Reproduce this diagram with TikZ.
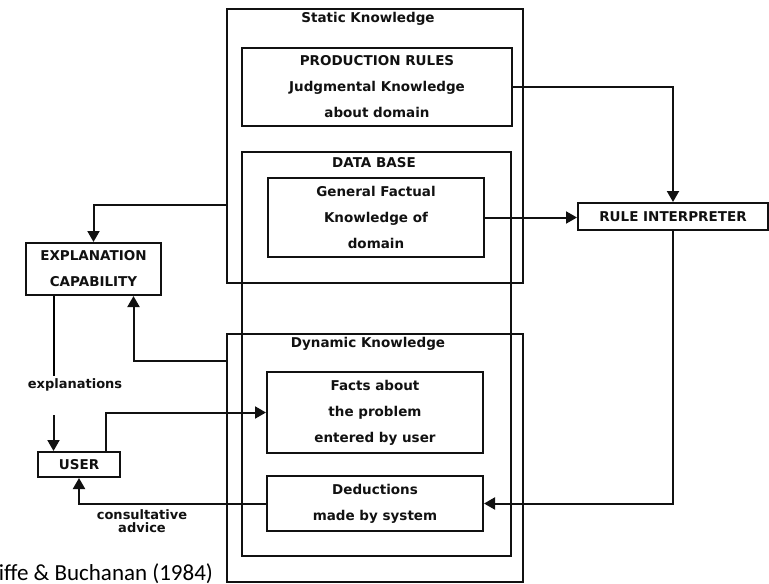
\documentclass[tikz,border=0pt]{standalone}
\usepackage{fontspec}
\setsansfont{DejaVu Sans}
\newfontfamily\capfont{Carlito}
\usetikzlibrary{arrows.meta, positioning, calc}
\definecolor{cink}{HTML}{111111}
\tikzset{
  every picture/.style={font=\sffamily\bfseries\fontsize{13.5}{26}\selectfont, line width=2pt},
  box/.style={draw=cink, text=cink, inner sep=0pt, align=center},
  arrow/.style={-{Triangle[length=11pt, width=12pt]}, draw=cink, line width=2pt},
  title/.style={text=cink, inner sep=1pt},
  note/.style={text=cink, align=center, inner sep=2pt, font=\sffamily\bfseries\fontsize{13}{13}\selectfont},
}

\begin{document}
\begin{tikzpicture}[x=1pt, y=-1pt]
  \useasboundingbox (0,0) rectangle (769,584);
  % knowledge base
  \node[box, minimum width=296pt, minimum height=274pt] (static) at (375,146) {};
  \node[title] (statictitle) at (368,19) {Static Knowledge};
  \node[box, minimum width=270pt, minimum height=78pt] (rules) at (377,87) {PRODUCTION RULES\\Judgmental Knowledge\\about domain};
  \node[box, minimum width=269pt, minimum height=404pt] (database) at (376,354) {};
  \node[title] (dbtitle) at (374,163) {DATA BASE};
  \node[box, minimum width=216pt, minimum height=79pt] (factual) at (376,217.5) {General Factual\\Knowledge of\\domain};
  \node[box, minimum width=296pt, minimum height=248pt] (dynamic) at (375,458) {};
  \node[title] (dyntitle) at (368,344) {Dynamic Knowledge};
  \node[box, minimum width=216pt, minimum height=81pt] (facts) at (375,412.5) {Facts about\\the problem\\entered by user};
  \node[box, minimum width=216pt, minimum height=55pt] (deductions) at (375,503.5) {Deductions\\made by system};
  % outside the knowledge base
  \node[box, minimum width=190pt, minimum height=27pt] (interp) at (673,216.5) {RULE INTERPRETER};
  \node[box, minimum width=135pt, minimum height=52pt] (explain) at (93.5,269) {EXPLANATION\\CAPABILITY};
  \node[box, minimum width=82pt, minimum height=25pt] (user) at (79,464.5) {USER};
  \node[note] (explabel) at (75,385) {explanations};
  \node[note] (advice) at (142,521) {consultative\\advice};
  \node[anchor=base east, inner sep=0pt, font=\capfont\mdseries\fontsize{23}{23}\selectfont] (source) at (214,580) {iffe \& Buchanan (1984)};
  % connectors
  \draw[arrow] (rules.east) -| (interp.north);
  \draw[arrow] (factual.east) -- (factual.east -| interp.west);
  \draw[arrow] (interp.south) |- (deductions.east);
  \draw[arrow] ([yshift=-59pt]static.west) -| (explain.north);
  \draw[arrow] ([yshift=97pt]dynamic.west) -| ([xshift=40pt]explain.south);
  \coordinate (explout) at ([xshift=-40pt]explain.south);
  \draw (explout) -- (explout |- explabel.north);
  \draw[arrow] ([yshift=-21pt]explout |- explabel.south) -- (explout |- user.north);
  \draw[arrow] ([xshift=27pt]user.north) |- (facts.west);
  \draw[arrow] (deductions.west) -| (user.south);
\end{tikzpicture}
\end{document}
